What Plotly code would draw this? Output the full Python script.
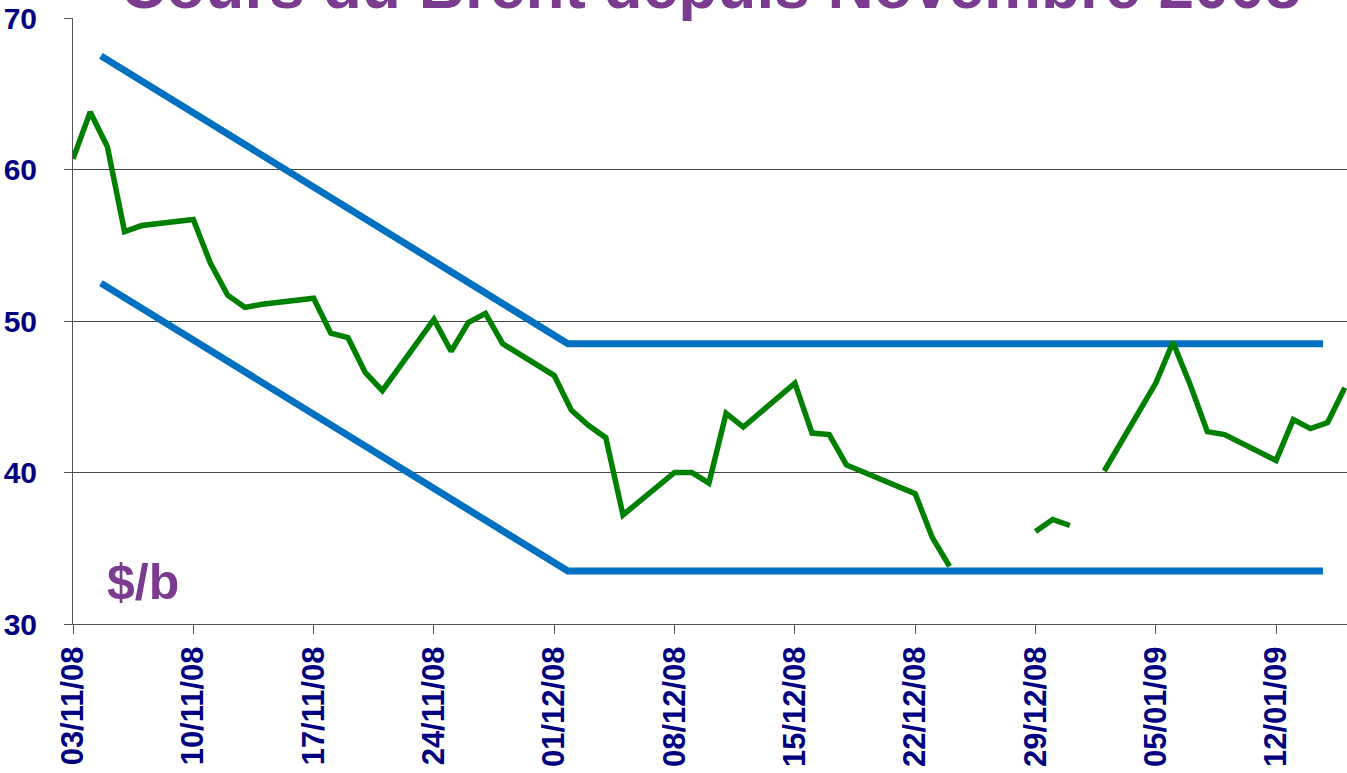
import plotly.graph_objects as go

# ---- data ----
dates = [
    "2008-11-03", "2008-11-04", "2008-11-05", "2008-11-06", "2008-11-07",
    "2008-11-10", "2008-11-11", "2008-11-12", "2008-11-13", "2008-11-14",
    "2008-11-17", "2008-11-18", "2008-11-19", "2008-11-20", "2008-11-21",
    "2008-11-24", "2008-11-25", "2008-11-26", "2008-11-27", "2008-11-28",
    "2008-12-01", "2008-12-02", "2008-12-03", "2008-12-04", "2008-12-05",
    "2008-12-08", "2008-12-09", "2008-12-10", "2008-12-11", "2008-12-12",
    "2008-12-15", "2008-12-16", "2008-12-17", "2008-12-18",
    "2008-12-22", "2008-12-23", "2008-12-24", "2008-12-25", "2008-12-26",
    "2008-12-29", "2008-12-30", "2008-12-31", "2009-01-01", "2009-01-02",
    "2009-01-05", "2009-01-06", "2009-01-07", "2009-01-08", "2009-01-09",
    "2009-01-12", "2009-01-13", "2009-01-14", "2009-01-15", "2009-01-16",
]
brent = [
    60.7, 63.8, 61.5, 55.9, 56.3,
    56.7, 53.8, 51.7, 50.9, 51.1,
    51.5, 49.2, 48.9, 46.6, 45.4,
    50.1, 48.0, 49.9, 50.5, 48.5,
    46.4, 44.1, 43.1, 42.3, 37.2,
    40.0, 40.0, 39.3, 43.9, 43.0,
    45.9, 42.6, 42.5, 40.5,
    38.6, 35.7, 33.8, None, None,
    36.1, 36.9, 36.5, None, 40.1,
    45.9, 48.6, 45.8, 42.7, 42.5,
    40.8, 43.5, 42.9, 43.3, 45.6,
]

channel_x = ["2008-11-04 15:00", "2008-12-01 19:00", "2009-01-14 17:30"]
channel_high = [67.5, 48.5, 48.5]
channel_low = [52.5, 33.5, 33.5]

tick_dates = ["2008-11-03", "2008-11-10", "2008-11-17", "2008-11-24", "2008-12-01",
              "2008-12-08", "2008-12-15", "2008-12-22", "2008-12-29", "2009-01-05",
              "2009-01-12"]
tick_labels = ["03/11/08", "10/11/08", "17/11/08", "24/11/08", "01/12/08",
               "08/12/08", "15/12/08", "22/12/08", "29/12/08", "05/01/09", "12/01/09"]

title_text = "Cours du Brent depuis Novembre 2008"
unit_text = "$/b"

FONT = "Liberation Sans, Arial, sans-serif"
NAVY = "#000080"
PURPLE = "#7B3B8F"

fig = go.Figure()
fig.add_trace(go.Scatter(x=channel_x, y=channel_high, mode="lines",
                         line=dict(color="#0070C0", width=7), hoverinfo="skip"))
fig.add_trace(go.Scatter(x=channel_x, y=channel_low, mode="lines",
                         line=dict(color="#0070C0", width=7), hoverinfo="skip"))
fig.add_trace(go.Scatter(x=dates, y=brent, mode="lines", connectgaps=False,
                         line=dict(color="#008000", width=5.5)))

fig.update_layout(
    width=1347, height=773,
    margin=dict(l=73, r=0, t=18, b=149, autoexpand=False),
    paper_bgcolor="white", plot_bgcolor="white",
    showlegend=False,
    xaxis=dict(
        type="date",
        range=["2008-11-03", "2009-01-16 03:00"],
        tickmode="array", tickvals=tick_dates, ticktext=tick_labels,
        tickangle=-90,
        tickfont=dict(family=FONT, size=31, color=NAVY, weight="bold"),
        showgrid=False, zeroline=False,
        showline=True, linecolor="#555555", linewidth=1,
        ticks="outside", ticklen=9, tickcolor="#555555",
        automargin=False,
    ),
    yaxis=dict(
        range=[30, 70], dtick=10,
        tickfont=dict(family=FONT, size=30, color=NAVY, weight="bold"),
        showgrid=True, gridcolor="#484848", gridwidth=1,
        zeroline=False,
        showline=True, linecolor="#555555", linewidth=1,
        ticks="outside", ticklen=8, tickcolor="#555555",
        ticklabelstandoff=21,
        automargin=False,
    ),
    annotations=[
        dict(text=title_text, xref="paper", yref="paper", x=0.5, y=1.0,
             xanchor="center", yanchor="bottom", showarrow=False, yshift=-6,
             font=dict(family=FONT, size=64, color=PURPLE, weight="bold")),
        dict(text=unit_text, xref="paper", yref="paper", x=0.025, y=0.07,
             xanchor="left", yanchor="middle", showarrow=False,
             font=dict(family=FONT, size=50, color=PURPLE, weight="bold")),
    ],
)

fig.write_html(
    "out.html",
    config={"displayModeBar": False},
    post_script="document.body.style.margin='0';document.body.style.overflow='hidden';",
)
